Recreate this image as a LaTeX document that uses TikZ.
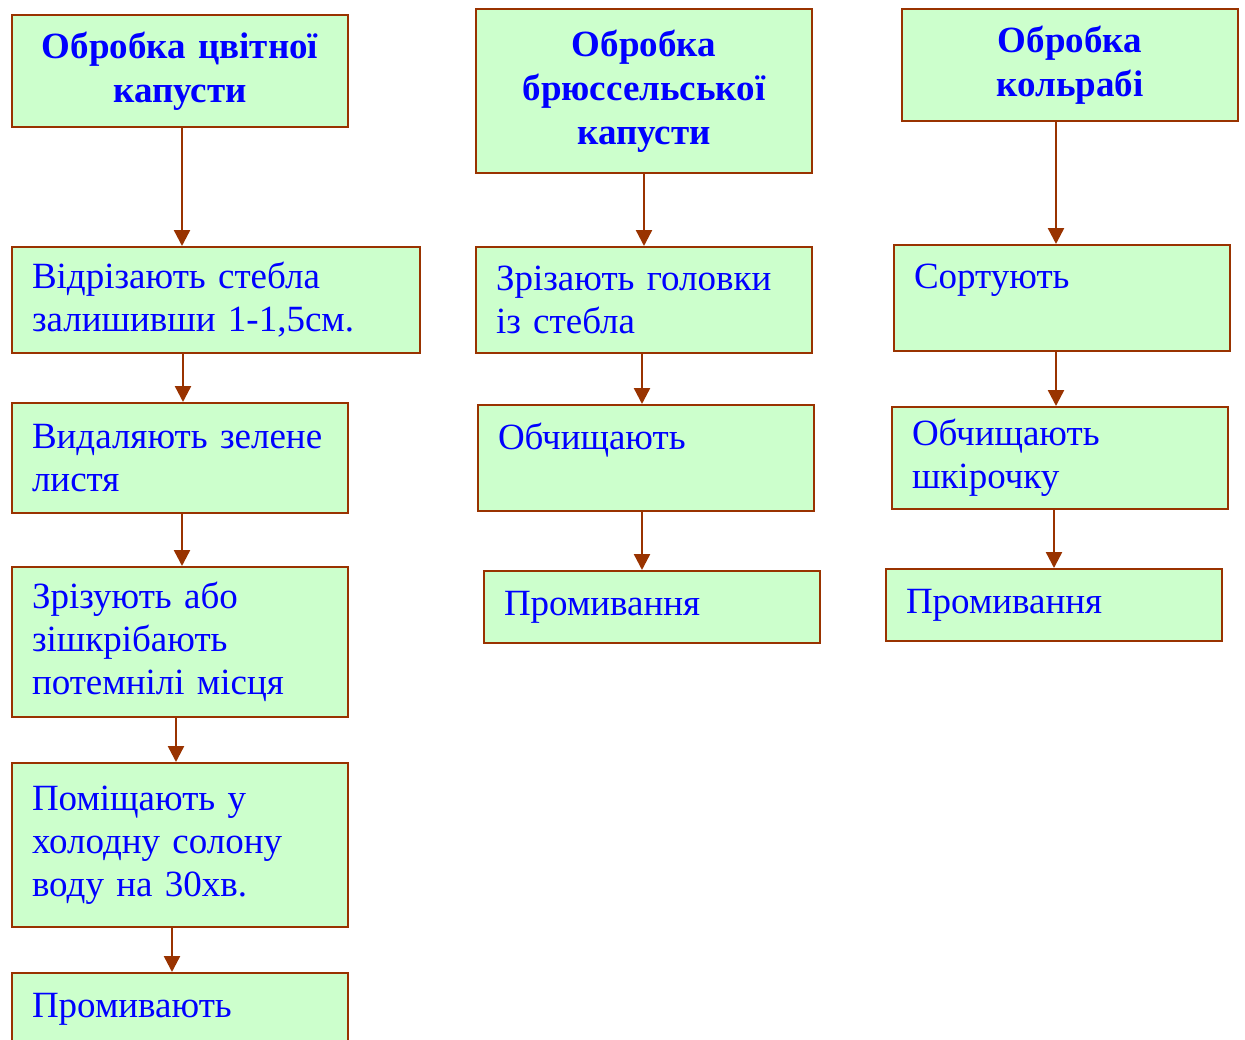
\documentclass[tikz,border=0pt]{standalone}
\usepackage{fontspec}
\setmainfont{Liberation Serif}
\usepackage{tikz}
\usetikzlibrary{arrows.meta}
\definecolor{mintfill}{RGB}{204, 255, 204}
\definecolor{rust}{RGB}{153, 51, 0}
\definecolor{inkblue}{RGB}{0, 0, 255}
\tikzset{
  stepbox/.style={draw=rust, line width=2pt, fill=mintfill, text=inkblue,
                  anchor=north west, align=left, inner xsep=20pt, inner ysep=0pt,
                  font=\fontsize{37}{43}\selectfont},
  headbox/.style={stepbox, align=center, font=\bfseries\fontsize{37}{44}\selectfont},
  flow/.style={draw=rust, line width=2.4pt, -{Triangle[width=16pt,length=16pt]}}
}
\begin{document}
\begin{tikzpicture}[x=1pt,y=-1pt]
            \useasboundingbox (0,0) rectangle (1245,1039);
            % Cauliflower
            \node[headbox, minimum width=336, minimum height=112, text width=296] (cauli) at (11,14) {Обробка цвітної\\капусти};
            \node[stepbox, minimum width=408, minimum height=106, text width=368] (cutstem) at (11,246) {Відрізають стебла\\залишивши 1-1,5см.};
            \node[stepbox, minimum width=336, minimum height=110, text width=296] (leaves)  at (11,402) {Видаляють зелене\\листя};
            \node[stepbox, minimum width=336, minimum height=150, text width=296] (scrape)  at (11,566) {Зрізують або\\зішкрібають\\потемнілі місця};
            \node[stepbox, minimum width=336, minimum height=164, text width=296] (brine)   at (11,762) {Поміщають у\\холодну солону\\воду на 30хв.};
            \node[stepbox, minimum width=336, minimum height=72,  text width=296] (rinsea)  at (11,972) {Промивають};
            % Brussels sprouts
            \node[headbox, minimum width=336, minimum height=164, text width=296] (brussel) at (475,8) {Обробка\\брюссельської\\капусти};
            \node[stepbox, minimum width=336, minimum height=106, text width=296] (heads)   at (475,246) {Зрізають головки\\із стебла};
            \node[stepbox, minimum width=336, minimum height=106, text width=296] (cleanb)  at (477,404) {Обчищають\\~};
            \node[stepbox, minimum width=336, minimum height=72,  text width=296] (rinseb)  at (483,570) {Промивання};
            % Kohlrabi
            \node[headbox, minimum width=336, minimum height=112, text width=296] (kohl)    at (901,8) {Обробка\\кольрабі};
            \node[stepbox, minimum width=336, minimum height=106, text width=296] (sort)    at (893,244) {Сортують\\~};
            \node[stepbox, minimum width=336, minimum height=102, text width=296] (peel)    at (891,406) {Обчищають\\шкірочку};
            \node[stepbox, minimum width=336, minimum height=72,  text width=296] (rinsec)  at (885,568) {Промивання};
            % Connectors
            \draw[flow] (cauli.south -| 182,0)   -- (cutstem.north -| 182,0);
            \draw[flow] (cutstem.south -| 183,0) -- (leaves.north -| 183,0);
            \draw[flow] (leaves.south -| 182,0)  -- (scrape.north -| 182,0);
            \draw[flow] (scrape.south -| 176,0)  -- (brine.north -| 176,0);
            \draw[flow] (brine.south -| 172,0)   -- (rinsea.north -| 172,0);
            \draw[flow] (brussel.south -| 644,0) -- (heads.north -| 644,0);
            \draw[flow] (heads.south -| 642,0)   -- (cleanb.north -| 642,0);
            \draw[flow] (cleanb.south -| 642,0)  -- (rinseb.north -| 642,0);
            \draw[flow] (kohl.south -| 1056,0)   -- (sort.north -| 1056,0);
            \draw[flow] (sort.south -| 1056,0)   -- (peel.north -| 1056,0);
            \draw[flow] (peel.south -| 1054,0)   -- (rinsec.north -| 1054,0);
\end{tikzpicture}
\end{document}
